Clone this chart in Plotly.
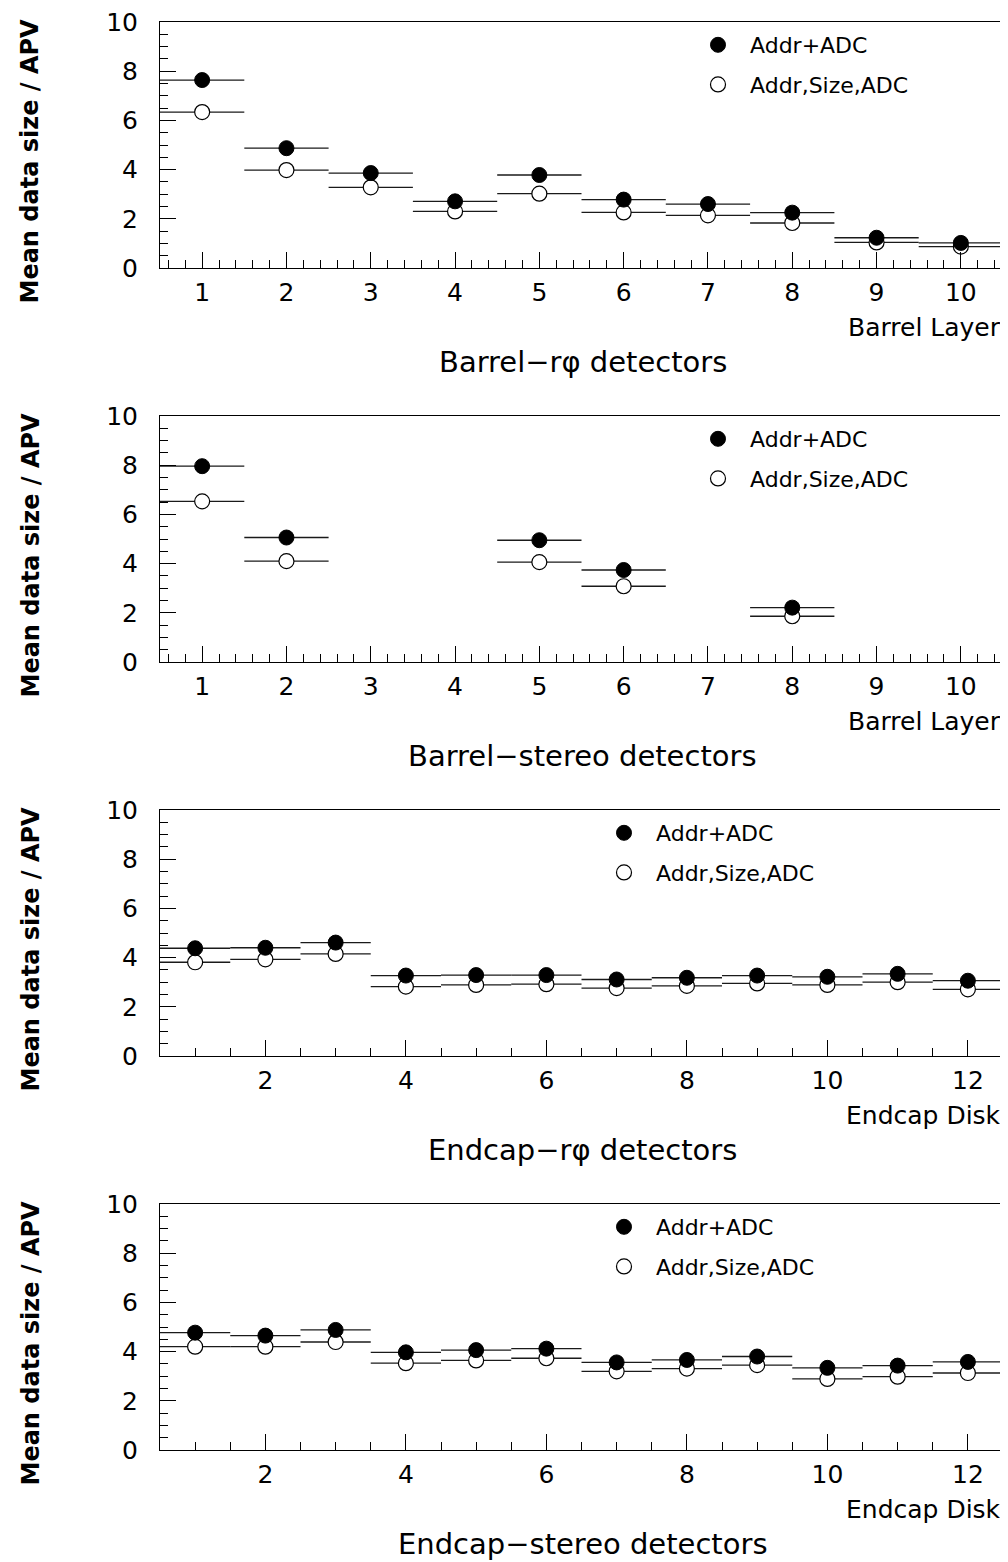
import plotly.graph_objects as go

# page offset of the figure inside the browser page (body margin)
PAGE_OFF = 8
W, H = 1008 - PAGE_OFF, 1562 - PAGE_OFF

# ---------------- data ----------------
barrel_layers = [1, 2, 3, 4, 5, 6, 7, 8, 9, 10]
endcap_disks = [1, 2, 3, 4, 5, 6, 7, 8, 9, 10, 11, 12]

rphi_barrel_addr_adc = [7.64, 4.87, 3.86, 2.71, 3.78, 2.78, 2.60, 2.25, 1.23, 1.02]
rphi_barrel_addr_size_adc = [6.34, 3.98, 3.28, 2.30, 3.02, 2.26, 2.14, 1.83, 1.04, 0.87]

stereo_barrel_addr_adc = [7.96, 5.06, None, None, 4.95, 3.74, None, 2.21, None, None]
stereo_barrel_addr_size_adc = [6.53, 4.10, None, None, 4.06, 3.08, None, 1.86, None, None]

rphi_endcap_addr_adc = [4.38, 4.40, 4.61, 3.27, 3.29, 3.29, 3.11, 3.18, 3.27, 3.22, 3.34, 3.06]
rphi_endcap_addr_size_adc = [3.81, 3.93, 4.15, 2.82, 2.89, 2.92, 2.76, 2.85, 2.95, 2.89, 3.00, 2.71]

stereo_endcap_addr_adc = [4.77, 4.65, 4.88, 3.97, 4.06, 4.12, 3.56, 3.66, 3.80, 3.34, 3.43, 3.58]
stereo_endcap_addr_size_adc = [4.20, 4.20, 4.39, 3.53, 3.64, 3.73, 3.20, 3.31, 3.45, 2.89, 2.98, 3.13]

bin_half_width = 0.5

series_names = ["Addr+ADC", "Addr,Size,ADC"]
panel_captions = ["Barrel\u2212r\u03c6 detectors", "Barrel\u2212stereo detectors",
                  "Endcap\u2212r\u03c6 detectors", "Endcap\u2212stereo detectors"]
x_titles = ["Barrel Layer", "Barrel Layer", "Endcap Disk", "Endcap Disk"]
y_title = "Mean data size / APV"

panels = [
    (barrel_layers, rphi_barrel_addr_adc, rphi_barrel_addr_size_adc),
    (barrel_layers, stereo_barrel_addr_adc, stereo_barrel_addr_size_adc),
    (endcap_disks, rphi_endcap_addr_adc, rphi_endcap_addr_size_adc),
    (endcap_disks, stereo_endcap_addr_adc, stereo_endcap_addr_size_adc),
]

# ---------------- layout geometry (screen pixels) ----------------
PLOT_L, PLOT_R = 160, 1003
PLOT_TOPS = [22, 416, 810, 1204]
PLOT_H = 246
LEGEND_MARKER_X = [718, 718, 624, 624]

FONT = "DejaVu Sans"


def px_x(x):
    return (x - PAGE_OFF) / W


def px_y(y):
    return 1 - (y - PAGE_OFF) / H


fig = go.Figure()
layout = dict(
    width=W, height=H,
    margin=dict(l=0, r=0, t=0, b=0, autoexpand=False),
    paper_bgcolor="white", plot_bgcolor="white",
    font=dict(family=FONT, color="black"),
    showlegend=True,
    annotations=[],
)

for i, (xs, filled, opened) in enumerate(panels):
    n = i + 1
    xa = "x" if n == 1 else f"x{n}"
    ya = "y" if n == 1 else f"y{n}"
    leg = "legend" if n == 1 else f"legend{n}"
    top = PLOT_TOPS[i]
    bottom = top + PLOT_H

    err = dict(type="constant", value=bin_half_width, symmetric=True,
               color="#1a1a1a", thickness=1.3, width=0)

    # open circles first (drawn beneath filled ones)
    fig.add_trace(go.Scatter(
        x=xs, y=opened, mode="markers", name=series_names[1],
        xaxis=xa, yaxis=ya, legend=leg, legendgroup=f"g{n}b", legendrank=2,
        marker=dict(symbol="circle", size=15, color="white",
                    line=dict(color="black", width=1.2)),
        error_x=err, hoverinfo="x+y",
    ))
    fig.add_trace(go.Scatter(
        x=xs, y=filled, mode="markers", name=series_names[0],
        xaxis=xa, yaxis=ya, legend=leg, legendgroup=f"g{n}a", legendrank=1,
        marker=dict(symbol="circle", size=15, color="black",
                    line=dict(color="black", width=1)),
        error_x=err, hoverinfo="x+y",
    ))

    xmax = max(xs) + 0.5
    if len(xs) == 10:
        xtick = dict(dtick=1, tick0=0)
        xminor = 0.2
    else:
        xtick = dict(dtick=2, tick0=0)
        xminor = 0.5

    xkey = "xaxis" if n == 1 else f"xaxis{n}"
    ykey = "yaxis" if n == 1 else f"yaxis{n}"
    layout[xkey] = dict(
        domain=[px_x(PLOT_L), px_x(PLOT_R)], anchor=ya,
        range=[0.5, xmax], tickmode="linear", **xtick,
        showgrid=False, zeroline=False, automargin=False,
        showline=True, linecolor="black", linewidth=1, mirror=True,
        ticks="inside", ticklen=16, tickcolor="black", tickwidth=1,
        minor=dict(dtick=xminor, tick0=0, ticks="inside", ticklen=8,
                   tickcolor="black", tickwidth=1, showgrid=False),
        tickfont=dict(family=FONT, size=25, color="black"),
        ticklabelstandoff=2, ticklabeloverflow="allow",
    )
    layout[ykey] = dict(
        domain=[px_y(bottom), px_y(top)], anchor=xa,
        range=[0, 10], tickmode="linear", dtick=2, tick0=0,
        showgrid=False, zeroline=False, automargin=False,
        showline=True, linecolor="black", linewidth=1, mirror=True,
        ticks="inside", ticklen=16, tickcolor="black", tickwidth=1,
        minor=dict(dtick=0.5, tick0=0, ticks="inside", ticklen=8,
                   tickcolor="black", tickwidth=1, showgrid=False),
        tickfont=dict(family=FONT, size=25, color="black"),
        ticklabelstandoff=16, ticklabeloverflow="allow",
    )

    # legend inside plot
    layout[leg] = dict(
        x=px_x(LEGEND_MARKER_X[i] - 32), xanchor="left",
        y=px_y(top + 2), yanchor="top",
        bgcolor="rgba(0,0,0,0)", borderwidth=0,
        font=dict(family=FONT, size=22, color="black"),
        itemwidth=54, traceorder="grouped", tracegroupgap=8,
        itemclick=False, itemdoubleclick=False,
    )

    # x-axis title (right aligned) and caption
    layout["annotations"].append(dict(
        text=x_titles[i], xref="paper", yref="paper",
        x=px_x(PLOT_R), xanchor="right", y=px_y(bottom + 59), yanchor="middle",
        showarrow=False, font=dict(family=FONT, size=25, color="black"),
    ))
    layout["annotations"].append(dict(
        text=panel_captions[i], xref="paper", yref="paper",
        x=px_x((PLOT_L + PLOT_R) / 2 + 1), xanchor="center",
        y=px_y(bottom + 94), yanchor="middle",
        showarrow=False, font=dict(family=FONT, size=29, color="black"),
    ))
    # y-axis title
    layout["annotations"].append(dict(
        text=y_title, xref="paper", yref="paper",
        x=px_x(30), xanchor="center", y=px_y(top - 5), yanchor="top",
        textangle=-90, showarrow=False,
        font=dict(family="DejaVu Sans", size=24, color="black", weight="bold"),
    ))

fig.update_layout(**layout)
fig.write_html("out.html")
